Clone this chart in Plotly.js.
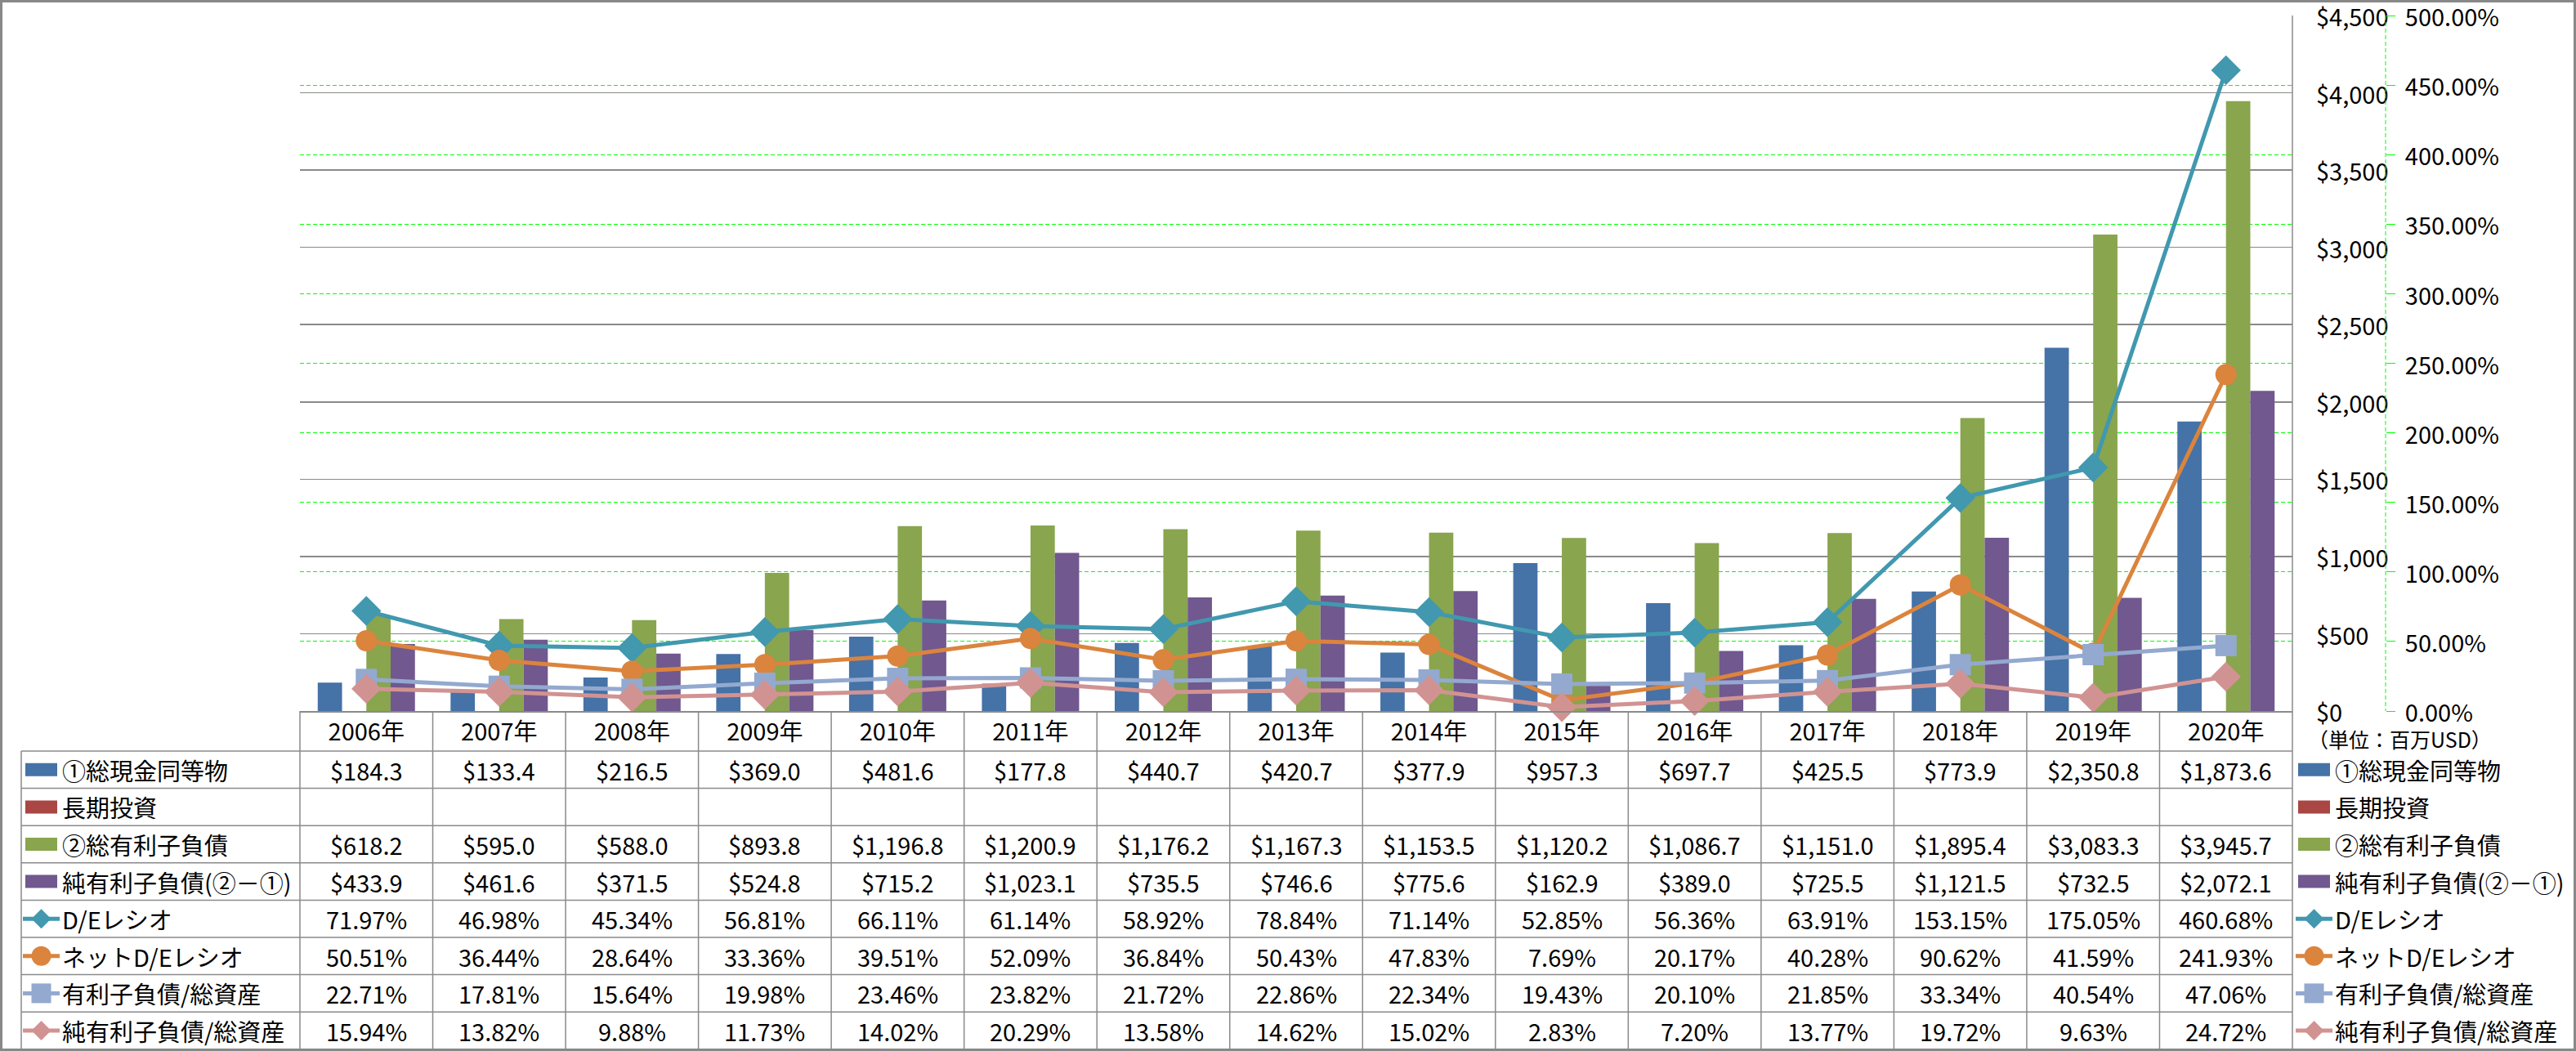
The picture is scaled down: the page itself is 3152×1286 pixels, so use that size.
<!DOCTYPE html>
<html>
<head>
<meta charset="utf-8">
<script src="https://cdn.plot.ly/plotly-3.0.1.min.js"></script>
<style>html,body{margin:0;padding:0;background:#fff;}#chart{width:3152px;height:1286px;}</style>
</head>
<body>
<div id="chart"></div>
<script>
// ---------- data ----------
const years = ['2006年','2007年','2008年','2009年','2010年','2011年','2012年','2013年','2014年','2015年','2016年','2017年','2018年','2019年','2020年'];
const cashEquivalents = [184.3,133.4,216.5,369.0,481.6,177.8,440.7,420.7,377.9,957.3,697.7,425.5,773.9,2350.8,1873.6];
const longTermInvestments = [null,null,null,null,null,null,null,null,null,null,null,null,null,null,null];
const interestBearingDebt = [618.2,595.0,588.0,893.8,1196.8,1200.9,1176.2,1167.3,1153.5,1120.2,1086.7,1151.0,1895.4,3083.3,3945.7];
const netInterestBearingDebt = [433.9,461.6,371.5,524.8,715.2,1023.1,735.5,746.6,775.6,162.9,389.0,725.5,1121.5,732.5,2072.1];
const deRatio = [71.97,46.98,45.34,56.81,66.11,61.14,58.92,78.84,71.14,52.85,56.36,63.91,153.15,175.05,460.68];
const netDeRatio = [50.51,36.44,28.64,33.36,39.51,52.09,36.84,50.43,47.83,7.69,20.17,40.28,90.62,41.59,241.93];
const debtToAssets = [22.71,17.81,15.64,19.98,23.46,23.82,21.72,22.86,22.34,19.43,20.10,21.85,33.34,40.54,47.06];
const netDebtToAssets = [15.94,13.82,9.88,11.73,14.02,20.29,13.58,14.62,15.02,2.83,7.20,13.77,19.72,9.63,24.72];
const seriesNames = ['①総現金同等物','長期投資','②総有利子負債','純有利子負債(②－①)','D/Eレシオ','ネットD/Eレシオ','有利子負債/総資産','純有利子負債/総資産'];
const unitNote = '（単位：百万USD）';

// ---------- styles ----------
const W = 3152, H = 1286;
const px = v => v / W;
const py = v => 1 - v / H;
const FONT = "'Noto Sans CJK JP', 'Noto Sans', sans-serif";
const FS = 29;
const GRAY = '#8a8a8a';
const styles = [
  {kind:'bar', color:'#4572A7'},
  {kind:'bar', color:'#AA4643'},
  {kind:'bar', color:'#89A54E'},
  {kind:'bar', color:'#71588F'},
  {kind:'line', color:'#4198AF', symbol:'diamond', size:28},
  {kind:'line', color:'#DB843D', symbol:'circle', size:26},
  {kind:'line', color:'#93A9CF', symbol:'square', size:26},
  {kind:'line', color:'#D19392', symbol:'diamond', size:28}
];
const seriesValues = [cashEquivalents, longTermInvestments, interestBearingDebt, netInterestBearingDebt, deRatio, netDeRatio, debtToAssets, netDebtToAssets];

// ---------- traces ----------
const traces = seriesValues.map((vals, i) => {
  const s = styles[i];
  if (s.kind === 'bar') {
    return {type:'bar', name:seriesNames[i], x:years, y:vals, xaxis:'x', yaxis:'y',
            marker:{color:s.color, line:{width:0}}, hoverinfo:'skip'};
  }
  return {type:'scatter', mode:'lines+markers', name:seriesNames[i], x:years, y:vals, xaxis:'x', yaxis:'y2',
          line:{color:s.color, width:5}, marker:{symbol:s.symbol, size:s.size, color:s.color, line:{width:0}},
          hoverinfo:'skip', cliponaxis:false};
});

// ---------- table geometry ----------
const plotLeft = 367, plotRight = 2805, plotTop = 19, plotBottom = 870;
const rowsTop = 919, rowH = 45.6, nRows = 8;
const tableLeft = 26;
const rowCenter = k => rowsTop + rowH * (k + 0.5);

const fmtDollar = v => (v === null ? '' : '$' + v.toLocaleString('en-US', {minimumFractionDigits:1, maximumFractionDigits:1}));
const fmtPct = v => (v === null ? '' : v.toFixed(2) + '%');

const shapes = [];
const annotations = [];

// horizontal table lines
for (let k = 0; k <= nRows; k++) {
  const y = rowsTop + rowH * k;
  shapes.push({type:'line', xref:'paper', yref:'paper', x0:px(tableLeft), x1:px(plotRight), y0:py(y), y1:py(y), line:{color:GRAY, width:1.5}, layer:'above'});
}
// vertical table lines
shapes.push({type:'line', xref:'paper', yref:'paper', x0:px(tableLeft), x1:px(tableLeft), y0:py(rowsTop), y1:py(rowsTop + rowH*nRows), line:{color:GRAY, width:1.5}});
shapes.push({type:'line', xref:'paper', yref:'paper', x0:px(plotLeft), x1:px(plotLeft), y0:py(plotBottom), y1:py(rowsTop + rowH*nRows), line:{color:GRAY, width:1.5}});
shapes.push({type:'line', xref:'paper', yref:'paper', x0:px(plotRight), x1:px(plotRight), y0:py(plotTop), y1:py(rowsTop + rowH*nRows), line:{color:GRAY, width:1.5}});
for (let i = 1; i < years.length; i++) {
  shapes.push({type:'line', xref:'x', yref:'paper', x0:i - 0.5, x1:i - 0.5, y0:py(plotBottom), y1:py(rowsTop + rowH*nRows), line:{color:GRAY, width:1.5}});
}
// secondary axis dashed line
shapes.push({type:'line', xref:'paper', yref:'paper', x0:px(2919), x1:px(2919), y0:py(plotTop), y1:py(plotBottom), line:{color:'#00FF00', width:1, dash:'5px,3px'}});
// outer chart border
shapes.push({type:'rect', xref:'paper', yref:'paper', x0:px(1.5), x1:px(W-1.5), y0:py(1.5), y1:py(H-1.5), line:{color:'#888888', width:3}, fillcolor:'rgba(0,0,0,0)'});

// legend keys
function addKey(xL, yc, s) {
  if (s.kind === 'bar') {
    shapes.push({type:'rect', xref:'paper', yref:'paper', x0:px(xL), x1:px(xL+39), y0:py(yc-8), y1:py(yc+8), fillcolor:s.color, line:{width:0}});
    return;
  }
  const cx = xL + 19.5;
  shapes.push({type:'line', xref:'paper', yref:'paper', x0:px(xL-3), x1:px(xL+42), y0:py(yc), y1:py(yc), line:{color:s.color, width:5}});
  const r = 12;
  if (s.symbol === 'circle') {
    shapes.push({type:'circle', xref:'paper', yref:'paper', x0:px(cx-r), x1:px(cx+r), y0:py(yc-r), y1:py(yc+r), fillcolor:s.color, line:{width:0}});
  } else if (s.symbol === 'square') {
    shapes.push({type:'rect', xref:'paper', yref:'paper', x0:px(cx-r), x1:px(cx+r), y0:py(yc-r), y1:py(yc+r), fillcolor:s.color, line:{width:0}});
  } else {
    const p = `M${px(cx)},${py(yc-r)} L${px(cx+r)},${py(yc)} L${px(cx)},${py(yc+r)} L${px(cx-r)},${py(yc)} Z`;
    shapes.push({type:'path', xref:'paper', yref:'paper', path:p, fillcolor:s.color, line:{width:0}});
  }
}

for (let k = 0; k < nRows; k++) {
  const yc = rowCenter(k);
  // left row labels
  addKey(31, yc, styles[k]);
  annotations.push({xref:'paper', yref:'paper', x:px(74), y:py(yc), text:seriesNames[k], showarrow:false, xanchor:'left', yanchor:'middle', font:{family:FONT, size:FS, color:'#000'}});
  // right legend
  addKey(2812, yc, styles[k]);
  annotations.push({xref:'paper', yref:'paper', x:px(2855), y:py(yc), text:seriesNames[k], showarrow:false, xanchor:'left', yanchor:'middle', font:{family:FONT, size:FS, color:'#000'}});
  // cell values
  const vals = seriesValues[k];
  const fmt = styles[k].kind === 'bar' ? fmtDollar : fmtPct;
  for (let i = 0; i < years.length; i++) {
    const t = fmt(vals[i]);
    if (!t) continue;
    annotations.push({xref:'x', yref:'paper', x:years[i], y:py(yc), text:t, showarrow:false, xanchor:'center', yanchor:'middle', font:{family:FONT, size:FS, color:'#000'}});
  }
}
annotations.push({xref:'paper', yref:'paper', x:px(2822), y:py(904), text:unitNote, showarrow:false, xanchor:'left', yanchor:'middle', font:{family:FONT, size:25, color:'#000'}});

const layout = {
  width:W, height:H,
  margin:{l:0, r:0, t:0, b:0, pad:0},
  paper_bgcolor:'#ffffff', plot_bgcolor:'#ffffff',
  showlegend:false,
  barmode:'group', bargap:0.268, bargroupgap:0,
  font:{family:FONT, size:FS, color:'#000'},
  xaxis:{domain:[px(plotLeft), px(plotRight)], type:'category', anchor:'y', range:[-0.5, 14.5],
         showline:true, linecolor:GRAY, linewidth:1.5, showgrid:false, zeroline:false, ticks:'',
         tickfont:{family:FONT, size:FS, color:'#000'}, ticklabelstandoff:0, fixedrange:true},
  yaxis:{domain:[py(plotBottom), py(plotTop)], range:[0, 4500], dtick:500, tick0:0,
         side:'right', anchor:'free', position:px(2833), showline:false, ticks:'',
         tickprefix:'$', tickformat:',d', showgrid:true, gridcolor:GRAY, gridwidth:1.5, zeroline:false,
         ticklabeloverflow:'allow', ticklabelshift:3,
         tickfont:{family:FONT, size:FS, color:'#000'}, fixedrange:true},
  yaxis2:{overlaying:'y', range:[0, 500], dtick:50, tick0:0,
          side:'right', anchor:'free', position:px(2919), showline:false,
          ticks:'outside', ticklen:11, tickcolor:'#00FF00', tickwidth:1,
          tickformat:'.2f', ticksuffix:'%', showgrid:true, gridcolor:'#00FF00', gridwidth:1, griddash:'5px,3px',
          ticklabeloverflow:'allow', ticklabelshift:3,
          zeroline:false, tickfont:{family:FONT, size:FS, color:'#000'}, ticklabelstandoff:6, fixedrange:true},
  shapes:shapes,
  annotations:annotations
};

Plotly.newPlot('chart', traces, layout, {staticPlot:true, displayModeBar:false});
</script>
</body>
</html>
